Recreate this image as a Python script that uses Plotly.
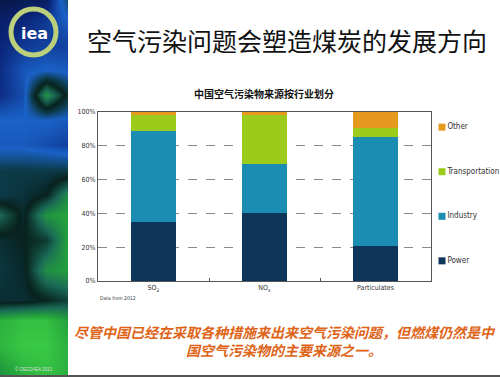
import plotly.graph_objects as go

# ---- data ----
categories = ["SO<sub>2</sub>", "NO<sub>x</sub>", "Particulates"]
power = [35, 40, 21]
industry = [54, 29, 64]
transportation = [9, 29, 5.5]
other = [2, 2, 9.5]
series_names = ["Power", "Industry", "Transportation", "Other"]
series_colors = ["#0c3559", "#1b8db2", "#9ccb1c", "#e59a1f"]
y_ticks = [0, 20, 40, 60, 80, 100]
y_tick_labels = ["0%", "20%", "40%", "60%", "80%", "100%"]

title_main = "空气污染问题会塑造煤炭的发展方向"
chart_title = "中国空气污染物来源按行业划分"
caption = "尽管中国已经在采取各种措施来出来空气污染问题，但燃煤仍然是中<br>国空气污染物的主要来源之一。"

# decorative left strip (blurred photo) sampled values
strip_x = [0, 23, 46, 68]
strip_y = [0, 20, 45, 70, 95, 120, 145, 170, 195, 215, 240, 270, 300, 320, 345, 377]
strip_z = [
    [0.05, 0.08, 0.10, 0.40],
    [0.12, 0.15, 0.20, 0.30],
    [0.15, 0.20, 0.22, 0.22],
    [0.17, 0.27, 0.30, 0.28],
    [0.17, 0.25, 0.82, 0.50],
    [0.30, 0.30, 0.30, 0.28],
    [0.28, 0.28, 0.25, 0.22],
    [0.45, 0.45, 0.45, 0.45],
    [0.45, 0.48, 0.55, 0.80],
    [0.70, 0.52, 0.82, 0.86],
    [0.50, 0.55, 0.60, 0.86],
    [0.47, 0.52, 0.80, 0.85],
    [0.50, 0.50, 0.55, 0.62],
    [0.90, 0.95, 0.95, 0.85],
    [0.92, 0.98, 0.98, 0.90],
    [0.80, 0.90, 0.95, 0.90],
]
strip_scale = [
    [0.0, "#061030"], [0.15, "#0a2478"], [0.3, "#1a62c8"], [0.45, "#0c3a48"],
    [0.55, "#08221e"], [0.7, "#1a6a55"], [0.85, "#23a03c"], [1.0, "#3ccf45"],
]

W, H = 500, 377
def px(x):
    return x / W
def py(y):
    return 1 - y / H

NARROW = "Liberation Sans Narrow, Arial Narrow, DejaVu Sans Condensed, sans-serif"

fig = go.Figure()

# background strip
fig.add_trace(go.Heatmap(
    x=strip_x, y=strip_y, z=strip_z, colorscale=strip_scale, zmin=0, zmax=1,
    zsmooth="best", showscale=False, hoverinfo="skip", xaxis="x2", yaxis="y2",
))

values = [power, industry, transportation, other]
for name, vals, col in zip(series_names, values, series_colors):
    fig.add_trace(go.Bar(
        x=categories, y=vals, name=name, marker=dict(color=col, line=dict(width=0)),
        width=0.4, showlegend=False,
    ))

# legend drawn as a key (square + label), top item = last series
legend_names = series_names[::-1]
legend_colors = series_colors[::-1]
legend_rows = list(range(len(legend_names)))
fig.add_trace(go.Scatter(
    x=[0] * len(legend_names), y=legend_rows, mode="markers+text",
    text=legend_names, textposition="middle right",
    textfont=dict(family=NARROW, size=8, color="#333"),
    marker=dict(symbol="square", size=7, color=legend_colors),
    xaxis="x3", yaxis="y3", showlegend=False, hoverinfo="skip", cliponaxis=False,
))

fig.update_layout(
    width=W, height=H, margin=dict(l=0, r=0, t=0, b=0, autoexpand=False),
    paper_bgcolor="white", plot_bgcolor="white",
    barmode="stack", showlegend=False,
    xaxis=dict(
        domain=[px(98), px(431)], showline=True, mirror=True, linecolor="#555", linewidth=1,
        ticks="inside", ticklen=3, tickcolor="#555", tickson="boundaries",
        tickfont=dict(family=NARROW, size=7, color="#333"),
        showgrid=False, fixedrange=True,
    ),
    yaxis=dict(
        domain=[py(281), py(112)], range=[0, 100], tickvals=y_ticks, ticktext=y_tick_labels,
        showline=True, mirror=True, linecolor="#555", linewidth=1,
        showgrid=True, gridcolor="#8a8a8a", griddash="dash", gridwidth=1,
        tickfont=dict(family=NARROW, size=7, color="#333"),
        ticks="", zeroline=False,
    ),
    xaxis2=dict(domain=[0, px(68)], range=[0, 68], visible=False, anchor="y2"),
    yaxis2=dict(domain=[0, 1], range=[377, 0], visible=False, anchor="x2"),
    xaxis3=dict(domain=[px(438), px(446)], range=[-1, 1], visible=False, anchor="y3"),
    yaxis3=dict(domain=[py(272), py(116)], range=[3.25, -0.25], visible=False, anchor="x3"),
)

shapes = [
    dict(type="circle", xref="paper", yref="paper", x0=px(11), x1=px(56), y0=py(55), y1=py(9),
         line=dict(color="#bcd07c", width=5)),
    dict(type="line", xref="paper", yref="paper", x0=0, x1=1, y0=py(376), y1=py(376),
         line=dict(color="#555", width=2)),
]
fig.update_layout(shapes=shapes)

annotations = [
    dict(text="<b>iea</b>", x=px(34), y=py(33), xref="paper", yref="paper", showarrow=False,
         font=dict(family="DejaVu Sans, sans-serif", size=16, color="white"), xanchor="center", yanchor="middle"),
    dict(text=title_main, x=px(287), y=py(40), xref="paper", yref="paper", showarrow=False,
         font=dict(family="Noto Sans CJK SC", size=25, color="#111"), xanchor="center", yanchor="middle"),
    dict(text="<b>" + chart_title + "</b>", x=px(264), y=py(93), xref="paper", yref="paper", showarrow=False,
         font=dict(family="Noto Sans CJK SC", size=10, color="#111"), xanchor="center", yanchor="middle"),
    dict(text="Data from 2012", x=px(98), y=py(298), xref="paper", yref="paper", showarrow=False,
         font=dict(family=NARROW, size=5, color="#333"),
         xanchor="left", yanchor="middle"),
    dict(text="<i>" + caption + "</i>", x=px(285), y=py(341), xref="paper", yref="paper", showarrow=False,
         font=dict(family="Noto Sans CJK SC", size=14, color="#de6418", weight="bold"), xanchor="center", yanchor="middle",
         align="center"),
    dict(text="© OECD/IEA 2013", x=px(34), y=py(369), xref="paper", yref="paper", showarrow=False,
         font=dict(family="Liberation Sans, sans-serif", size=4.5, color="#dddddd"), xanchor="center", yanchor="middle"),
]
fig.update_layout(annotations=annotations)

fig.write_html(
    "out.html",
    config={"displayModeBar": False},
    post_script="document.body.style.margin='0';document.body.style.overflow='hidden';",
)
